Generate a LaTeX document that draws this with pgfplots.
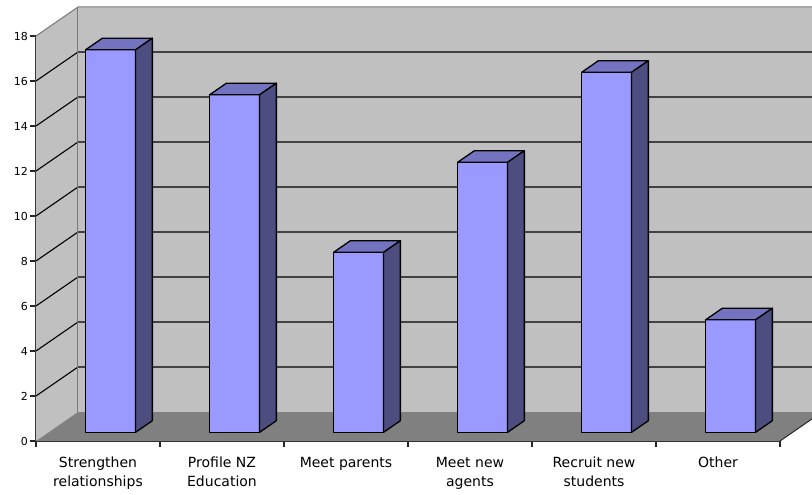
\documentclass[border=0pt]{standalone}
\usepackage{pgfplots}
\pgfplotsset{compat=1.18}
\usepackage{pgfplotstable}
\usepackage{fontspec}
\setmainfont{DejaVu Sans}

\definecolor{barfront}{RGB}{153,153,255}
\definecolor{bartop}{RGB}{115,115,191}
\definecolor{barside}{RGB}{77,77,128}
\definecolor{wallc}{RGB}{192,192,192}
\definecolor{floorc}{RGB}{128,128,128}
\definecolor{edgec}{RGB}{120,120,120}

\pgfplotstableread{
idx v
0 17
1 15
2 8
3 12
4 16
5 5
}\data

\begin{document}
\begin{tikzpicture}
\begin{axis}[
  x=124pt, y=22.5pt,
  xmin=0, xmax=6, ymin=0, ymax=18,
  clip=false,
  axis x line*=bottom, axis y line*=left,
  axis line style={-, line width=1.1pt, black!85},
  tick align=outside,
  tick style={line width=1.1pt, black!85},
  major tick length=6pt,
  ytick={0,2,...,18},
  xtick={0,...,6},
  x tick label as interval,
  xticklabels={{Strengthen\\relationships},{Profile NZ\\Education},{Meet parents},{Meet new\\agents},{Recruit new\\students},{Other}},
  xticklabel style={align=center, font=\fontsize{14}{19}\selectfont, inner sep=3pt, yshift=-7pt},
  yticklabel style={font=\fontsize{11}{13}\selectfont, inner sep=2pt},
  /pgf/number format/assume math mode=true,
]
% walls and floor
\fill[wallc] (axis cs:0.3387,1.2889) rectangle (axis cs:6.3387,19.2889);
\fill[wallc] (axis cs:0,0) -- (axis cs:0.3387,1.2889) -- (axis cs:0.3387,19.2889) -- (axis cs:0,18) -- cycle;
\fill[floorc] (axis cs:0,0) -- (axis cs:6,0) -- (axis cs:6.3387,1.2889) -- (axis cs:0.3387,1.2889) -- cycle;
% gridlines
\pgfplotsinvokeforeach{2,4,...,16}{
  \draw[black, line width=1.1pt] (axis cs:0,#1) -- ++(axis direction cs:0.3387,1.2889) -- ++(axis direction cs:6,0);
}
\draw[edgec, line width=1pt] (axis cs:0,18) -- (axis cs:0.3387,19.2889) -- (axis cs:6.3387,19.2889);
\draw[edgec, line width=1pt] (axis cs:0.3387,1.2889) -- (axis cs:0.3387,19.2889);
\draw[black!85, line width=1pt] (axis cs:6,0) -- (axis cs:6.3387,1.2889);
% bars
\pgfplotsinvokeforeach{0,...,5}{
  \pgfplotstablegetelem{#1}{v}\of\data
  \pgfmathsetmacro\xa{#1+0.4}
  \pgfmathsetmacro\xb{#1+0.803}
  \pgfmathsetmacro\xc{#1+0.803+0.1355}
  \pgfmathsetmacro\xd{#1+0.4+0.1355}
  \pgfmathsetmacro\yb{0.3867}
  \pgfmathsetmacro\ybb{0.3867+0.5156}
  \pgfmathsetmacro\yt{\pgfplotsretval+0.3867}
  \pgfmathsetmacro\ytt{\pgfplotsretval+0.3867+0.5156}
  \edef\cmd{%
    \noexpand\addplot[fill=barfront, draw=black, line width=1.3pt, line join=round] coordinates {(\xa,\yb) (\xb,\yb) (\xb,\yt) (\xa,\yt)} -- cycle;
    \noexpand\addplot[fill=bartop, draw=black, line width=1.3pt, line join=round] coordinates {(\xa,\yt) (\xb,\yt) (\xc,\ytt) (\xd,\ytt)} -- cycle;
    \noexpand\addplot[fill=barside, draw=black, line width=1.3pt, line join=round] coordinates {(\xb,\yb) (\xc,\ybb) (\xc,\ytt) (\xb,\yt)} -- cycle;
  }
  \cmd
}
\coordinate (bbsw) at (axis cs:-0.2903,-2.3556);
\coordinate (bbne) at (axis cs:6.2581,19.6);
\end{axis}
\pgfresetboundingbox
\path (bbsw) rectangle (bbne);
\end{tikzpicture}
\end{document}
